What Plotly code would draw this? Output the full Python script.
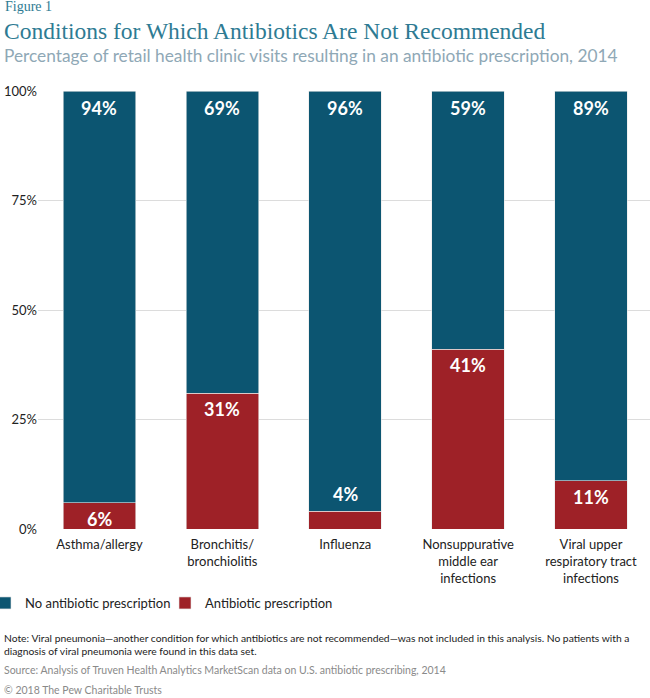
import plotly.graph_objects as go

categories = ["Asthma/allergy", "Bronchitis/<br>bronchiolitis", "Influenza",
              "Nonsuppurative<br>middle ear<br>infections",
              "Viral upper<br>respiratory tract<br>infections"]
antibiotic = [6, 31, 4, 41, 11]
no_antibiotic = [94, 69, 96, 59, 89]
y_ticks = [0, 25, 50, 75, 100]
y_ticklabels = ["0%", "25%", "50%", "75%", "100%"]

TEAL = "#0c5571"
RED = "#9e2127"
W, H = 650, 698
L, T, B = 38, 91, 169
PW = W - L
PH = H - T - B

def px_x(px):
    return (px - L) / PW

def px_y(py):
    return (H - B - py) / PH

fig = go.Figure()
fig.add_trace(go.Bar(x=categories, y=antibiotic, name="Antibiotic prescription",
                     marker=dict(color=RED, line=dict(color="#e8e8e8", width=0.6)),
                     legendrank=2, hoverinfo="skip"))
fig.add_trace(go.Bar(x=categories, y=no_antibiotic, name="No antibiotic prescription",
                     marker=dict(color=TEAL, line=dict(color="#e8e8e8", width=0.6)),
                     legendrank=1, hoverinfo="skip"))

annotations = []
for i, c in enumerate(categories):
    a = antibiotic[i]
    n = no_antibiotic[i]
    annotations.append(dict(x=c, y=a, xref="x", yref="y", text=f"<b>{a}%</b>",
                            showarrow=False, yshift=(-16 if a >= 5 else 17),
                            font=dict(color="white", size=18, family="Lato")))
    annotations.append(dict(x=c, y=a + n, xref="x", yref="y", text=f"<b>{n}%</b>",
                            showarrow=False, yshift=-17,
                            font=dict(color="white", size=18, family="Lato")))

texts = [
    (3, 7, "Figure 1", dict(size=14, color="#2e7b93", family="Liberation Serif")),
    (2, 31, "Conditions for Which Antibiotics Are Not Recommended",
     dict(size=23.5, color="#2e7b93", family="Liberation Serif")),
    (2, 56, "Percentage of retail health clinic visits resulting in an antibiotic prescription, 2014",
     dict(size=17.3, color="#8fa8b6", family="Lato")),
    (2, 644, "Note: Viral pneumonia\u2014another condition for which antibiotics are not recommended\u2014was not included in this analysis. No patients with a<br>diagnosis of viral pneumonia were found in this data set.",
     dict(size=10.3, color="#222222", family="Lato")),
    (2, 670, "Source: Analysis of Truven Health Analytics MarketScan data on U.S. antibiotic prescribing, 2014",
     dict(size=10.5, color="#8a8a8a", family="Lato")),
    (2, 690, "\u00a9 2018 The Pew Charitable Trusts",
     dict(size=10.5, color="#8a8a8a", family="Lato")),
]
for x, y, t, f in texts:
    annotations.append(dict(x=px_x(x), y=px_y(y), xref="paper", yref="paper",
                            text=t, showarrow=False, xanchor="left", yanchor="middle",
                            align="left", font=f))

fig.update_layout(
    width=W, height=H,
    margin=dict(l=L, r=0, t=T, b=B, pad=0, autoexpand=False),
    barmode="stack", bargap=0.41,
    plot_bgcolor="white", paper_bgcolor="white",
    font=dict(family="Lato", size=13, color="#222222"),
    xaxis=dict(range=[-0.5, 4.48], showgrid=False, zeroline=False, showline=False,
               ticks="", tickfont=dict(size=13, color="#222222"), fixedrange=True,
               automargin=False, ticklabelstandoff=6),
    yaxis=dict(range=[0, 100], tickvals=y_ticks, ticktext=y_ticklabels,
               showgrid=True, gridcolor="#dcdcdc", gridwidth=1, zeroline=False,
               ticks="", tickfont=dict(size=13, color="#222222"), fixedrange=True,
               automargin=False),
    legend=dict(orientation="h", xref="container", yref="container",
                x=0, y=(H - 603) / H, xanchor="left", yanchor="middle",
                font=dict(size=13, color="#222222"), itemwidth=30, traceorder="normal",
                entrywidth=150, entrywidthmode="pixels", indentation=-15),
    annotations=annotations,
    showlegend=True,
)

fig.write_html("out.html", config={"displayModeBar": False},
               post_script="document.body.style.margin='0';document.body.style.overflow='hidden';")
